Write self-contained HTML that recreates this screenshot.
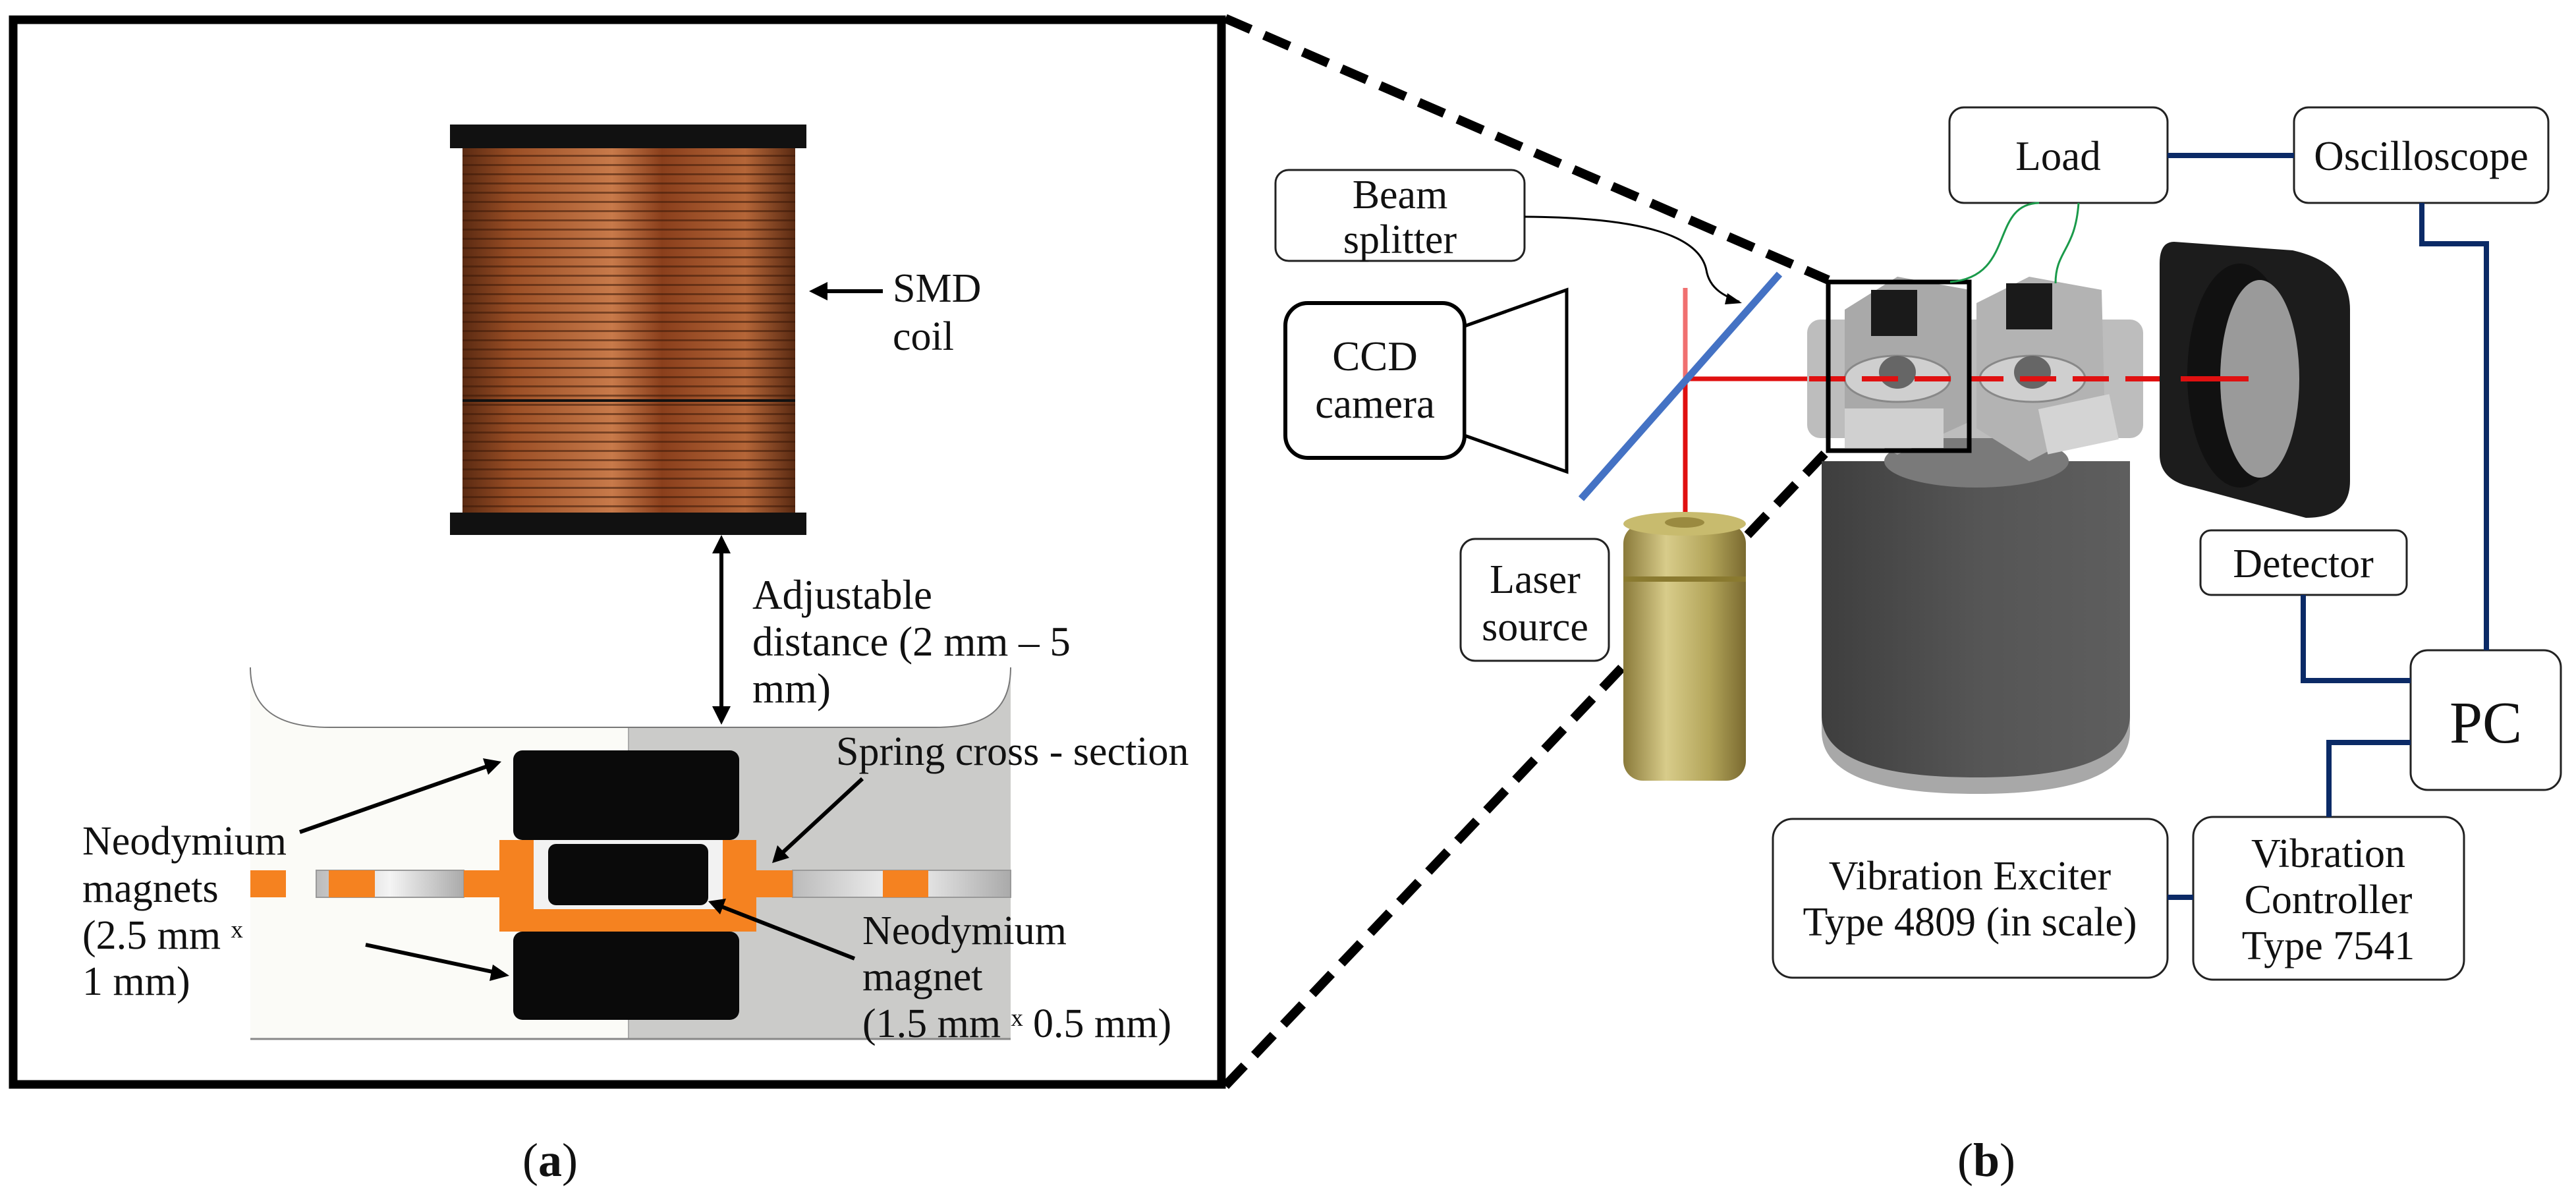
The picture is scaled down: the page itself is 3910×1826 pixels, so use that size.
<!DOCTYPE html>
<html><head><meta charset="utf-8"><style>
html,body{margin:0;padding:0;background:#fff}
svg{display:block}
text{font-family:"Liberation Serif",serif;fill:#111}
</style></head><body>
<svg width="3910" height="1826" viewBox="0 0 3910 1826" xmlns="http://www.w3.org/2000/svg">
<defs>
<linearGradient id="cu" x1="0" x2="1" y1="0" y2="0">
<stop offset="0" stop-color="#5a2a12"/><stop offset="0.15" stop-color="#9a4e25"/><stop offset="0.45" stop-color="#c87a4a"/><stop offset="0.6" stop-color="#8a3f1c"/><stop offset="0.85" stop-color="#b56638"/><stop offset="1" stop-color="#5a2a12"/>
</linearGradient>
<pattern id="wind" width="10" height="14" patternUnits="userSpaceOnUse"><rect width="10" height="14" fill="none"/><rect y="11" width="10" height="3" fill="#3a1808" opacity="0.55"/></pattern>
<linearGradient id="strip" x1="0" x2="1"><stop offset="0" stop-color="#bbb"/><stop offset="0.5" stop-color="#f4f4f4"/><stop offset="1" stop-color="#aaa"/></linearGradient>
<linearGradient id="gold" x1="0" x2="1"><stop offset="0" stop-color="#8a7a3a"/><stop offset="0.35" stop-color="#d8cc8a"/><stop offset="0.7" stop-color="#b3a55a"/><stop offset="1" stop-color="#7a6a30"/></linearGradient>
<linearGradient id="body" x1="0" x2="1"><stop offset="0" stop-color="#3e3e3e"/><stop offset="0.5" stop-color="#555"/><stop offset="1" stop-color="#5e5e5e"/></linearGradient>
</defs>

<!-- LEFT BOX -->
<rect x="20" y="30" width="1834" height="1616" fill="#fff" stroke="#000" stroke-width="13"/>

<!-- coil -->
<rect x="702" y="225" width="505" height="553" fill="url(#cu)"/>
<rect x="702" y="225" width="505" height="553" fill="url(#wind)"/>
<line x1="702" y1="608" x2="1207" y2="608" stroke="#111" stroke-width="4"/>
<rect x="683" y="189" width="541" height="36" fill="#111"/>
<rect x="683" y="778" width="541" height="34" fill="#111"/>

<text x="1355" y="458" font-size="62">SMD</text>
<text x="1355" y="531" font-size="62">coil</text>
<line x1="1340" y1="442" x2="1250" y2="442" stroke="#000" stroke-width="6"/>
<polygon points="1228,442 1256,428 1256,456" fill="#000"/>

<!-- lower panel -->
<rect x="380" y="1013" width="574" height="564" fill="#fbfbf7"/>
<rect x="954" y="1013" width="580" height="564" fill="#cbcbc9"/>
<line x1="954" y1="1104" x2="954" y2="1577" stroke="#aaa" stroke-width="2"/>
<path d="M380,1013 C380,1075 420,1104 500,1104 L1420,1104 C1500,1104 1534,1075 1534,1013 Z" fill="#fff"/>
<path d="M380,1013 C380,1075 420,1104 500,1104 L1420,1104 C1500,1104 1534,1075 1534,1013" fill="none" stroke="#777" stroke-width="2"/>
<line x1="380" y1="1577" x2="1534" y2="1577" stroke="#888" stroke-width="3"/>

<!-- double arrow -->
<line x1="1095" y1="835" x2="1095" y2="1078" stroke="#000" stroke-width="6"/>
<polygon points="1095,812 1081,840 1109,840" fill="#000"/>
<polygon points="1095,1100 1081,1072 1109,1072" fill="#000"/>
<text x="1142" y="924" font-size="63">Adjustable</text>
<text x="1142" y="995" font-size="63">distance (2 mm – 5</text>
<text x="1142" y="1066" font-size="63">mm)</text>

<!-- strip -->
<rect x="480" y="1321" width="224" height="41" fill="url(#strip)" stroke="#999" stroke-width="2"/>
<rect x="1203" y="1321" width="331" height="41" fill="url(#strip)" stroke="#999" stroke-width="2"/>
<rect x="380" y="1321" width="54" height="41" fill="#f58220"/>
<rect x="499" y="1321" width="70" height="41" fill="#f58220"/>
<rect x="1340" y="1321" width="69" height="41" fill="#f58220"/>
<!-- spring U -->
<path d="M704,1321 L758,1321 L758,1275 L810,1275 L810,1380 L1097,1380 L1097,1275 L1148,1275 L1148,1321 L1203,1321 L1203,1362 L1148,1362 L1148,1414 L758,1414 L758,1362 L704,1362 Z" fill="#f58220"/>
<rect x="810" y="1275" width="287" height="105" fill="#f2f2f2"/>
<!-- magnets -->
<rect x="779" y="1139" width="343" height="136" rx="14" fill="#0a0a0a"/>
<rect x="779" y="1414" width="343" height="134" rx="14" fill="#0a0a0a"/>
<rect x="832" y="1281" width="243" height="93" rx="12" fill="#0a0a0a"/>

<text x="1269" y="1161" font-size="62">Spring cross - section</text>
<text x="125" y="1297" font-size="62">Neodymium</text>
<text x="125" y="1369" font-size="62">magnets</text>
<text x="125" y="1440" font-size="62">(2.5 mm ˣ</text>
<text x="125" y="1510" font-size="62">1 mm)</text>
<text x="1309" y="1433" font-size="62">Neodymium</text>
<text x="1309" y="1503" font-size="62">magnet</text>
<text x="1309" y="1574" font-size="62">(1.5 mm ˣ 0.5 mm)</text>

<g stroke="#000" stroke-width="6">
<line x1="455" y1="1263" x2="740" y2="1163"/>
<line x1="555" y1="1434" x2="752" y2="1476"/>
<line x1="1309" y1="1182" x2="1188" y2="1294"/>
<line x1="1297" y1="1455" x2="1095" y2="1376"/>
</g>
<polygon points="761,1156 733,1151 741,1176" fill="#000"/>
<polygon points="773,1481 748,1464 743,1489" fill="#000"/>
<polygon points="1172,1310 1180,1283 1198,1302" fill="#000"/>
<polygon points="1075,1368 1102,1364 1093,1388" fill="#000"/>

<text x="835" y="1785" font-size="72" text-anchor="middle">(<tspan font-weight="bold">a</tspan>)</text>

<!-- dashed projection lines -->
<line x1="1860" y1="28" x2="2775" y2="425" stroke="#000" stroke-width="14" stroke-dasharray="42,22"/>
<line x1="1860" y1="1648" x2="2775" y2="683" stroke="#000" stroke-width="14" stroke-dasharray="42,22"/>

<!-- RIGHT SIDE -->
<g fill="#fff" stroke="#222" stroke-width="3">
<rect x="2959" y="163" width="331" height="145" rx="22"/>
<rect x="3482" y="163" width="386" height="145" rx="22"/>
<rect x="1936" y="258" width="378" height="138" rx="20"/>
<rect x="2217" y="818" width="225" height="185" rx="22"/>
<rect x="3340" y="805" width="313" height="98" rx="16"/>
<rect x="3659" y="987" width="228" height="212" rx="26"/>
<rect x="2691" y="1243" width="599" height="241" rx="30"/>
<rect x="3329" y="1240" width="411" height="247" rx="30"/>
</g>
<rect x="1951" y="460" width="272" height="235" rx="34" fill="#fff" stroke="#000" stroke-width="6"/>
<polygon points="2223,495 2378,440 2378,716 2223,661" fill="#fff" stroke="#000" stroke-width="5"/>

<g font-size="63" text-anchor="middle">
<text x="3124" y="258">Load</text>
<text x="3675" y="258">Oscilloscope</text>
<text x="2125" y="316" font-size="62">Beam</text>
<text x="2125" y="384" font-size="62">splitter</text>
<text x="2087" y="562">CCD</text>
<text x="2087" y="634">camera</text>
<text x="2330" y="900" font-size="62">Laser</text>
<text x="2330" y="972" font-size="62">source</text>
<text x="3496" y="876" font-size="62">Detector</text>
<text x="3773" y="1127" font-size="90">PC</text>
<text x="2990" y="1350" font-size="62">Vibration Exciter</text>
<text x="2990" y="1420" font-size="62">Type 4809 (in scale)</text>
<text x="3534" y="1316" font-size="62">Vibration</text>
<text x="3534" y="1386" font-size="62">Controller</text>
<text x="3534" y="1456" font-size="62">Type 7541</text>
</g>

<!-- navy connectors -->
<g fill="none" stroke="#0b2a66" stroke-width="8">
<line x1="3290" y1="236" x2="3482" y2="236"/>
<polyline points="3676,308 3676,370 3774,370 3774,987"/>
<polyline points="3496,903 3496,1033 3659,1033"/>
<polyline points="3659,1127 3535,1127 3535,1240"/>
<line x1="3290" y1="1362" x2="3329" y2="1362"/>
</g>

<!-- beam splitter arrow -->
<path d="M2314,329 C2500,330 2580,360 2590,410 C2595,440 2620,450 2640,458" fill="none" stroke="#000" stroke-width="3"/>
<polygon points="2644,460 2622,445 2618,462" fill="#000"/>

<!-- laser beams -->
<line x1="2558" y1="437" x2="2558" y2="575" stroke="#f07070" stroke-width="7"/>
<line x1="2558" y1="575" x2="2558" y2="780" stroke="#e01010" stroke-width="7"/>
<line x1="2558" y1="575" x2="2746" y2="575" stroke="#e01010" stroke-width="7"/>
<line x1="2400" y1="757" x2="2701" y2="416" stroke="#4472c4" stroke-width="11"/>

<!-- laser cylinder -->
<rect x="2464" y="795" width="186" height="390" rx="30" fill="url(#gold)"/>
<ellipse cx="2557" cy="795" rx="93" ry="18" fill="#c8bb6e"/>
<ellipse cx="2557" cy="793" rx="30" ry="8" fill="#9a8a40"/>
<rect x="2464" y="875" width="186" height="8" fill="#8a7a30"/>

<!-- shaker body -->
<path d="M2765,700 L3233,700 L3233,1110 Q3233,1205 3000,1205 Q2765,1205 2765,1110 Z" fill="#a8a8a8"/>
<path d="M2765,700 L3233,700 L3233,1085 Q3233,1180 3000,1180 Q2765,1180 2765,1085 Z" fill="url(#body)"/>
<ellipse cx="3000" cy="700" rx="140" ry="40" fill="#7a7a7a"/>

<!-- device blocks -->
<rect x="2743" y="485" width="510" height="180" rx="20" fill="#bdbdbd"/>
<polygon points="2800,470 2880,420 2990,440 2990,640 2880,690 2800,650" fill="#a9a9a9"/>
<polygon points="3000,460 3080,420 3190,440 3195,640 3080,700 3000,650" fill="#b3b3b3"/>
<rect x="2800" y="620" width="150" height="60" fill="#d0d0d0"/>
<rect x="3100" y="610" width="110" height="70" fill="#d4d4d4" transform="rotate(-12 3150 645)"/>
<ellipse cx="2880" cy="575" rx="80" ry="35" fill="#cfcfcf" stroke="#888" stroke-width="3"/>
<ellipse cx="3085" cy="575" rx="80" ry="35" fill="#cfcfcf" stroke="#888" stroke-width="3"/>
<ellipse cx="2880" cy="565" rx="28" ry="25" fill="#666"/>
<ellipse cx="3085" cy="565" rx="28" ry="25" fill="#666"/>
<rect x="2840" y="440" width="70" height="70" fill="#1a1a1a"/>
<rect x="3045" y="430" width="70" height="70" fill="#1a1a1a"/>
<line x1="2746" y1="575" x2="3413" y2="575" stroke="#e01010" stroke-width="8" stroke-dasharray="55,25"/>
<line x1="3310" y1="575" x2="3413" y2="575" stroke="#e01010" stroke-width="8"/>
<rect x="2775" y="428" width="214" height="256" fill="none" stroke="#000" stroke-width="7"/>

<!-- green wires -->
<path d="M3095,308 C3020,310 3060,420 2960,428" fill="none" stroke="#1a9a4a" stroke-width="3"/>
<path d="M3155,308 C3150,380 3120,380 3120,430" fill="none" stroke="#1a9a4a" stroke-width="3"/>

<!-- detector -->
<path d="M3300,367 L3480,380 Q3567,400 3567,470 L3567,730 Q3567,786 3500,786 L3330,740 Q3278,730 3278,690 L3278,400 Q3278,367 3300,367 Z" fill="#1c1c1c"/>
<ellipse cx="3400" cy="570" rx="80" ry="170" fill="#111"/>
<ellipse cx="3430" cy="575" rx="60" ry="150" fill="#9a9a9a"/>
<line x1="3310" y1="575" x2="3413" y2="575" stroke="#e01010" stroke-width="8"/>

<text x="3015" y="1785" font-size="72" text-anchor="middle">(<tspan font-weight="bold">b</tspan>)</text>
</svg>
</body></html>
